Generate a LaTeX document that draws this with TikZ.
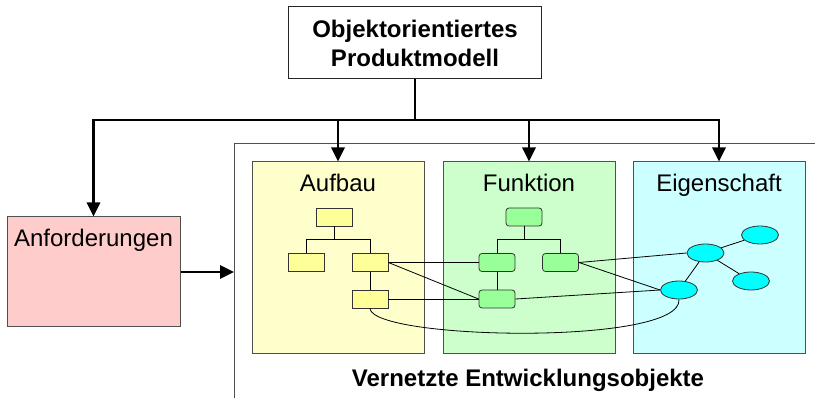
\documentclass[tikz,border=0pt]{standalone}
\usepackage{fontspec}
\setmainfont{Liberation Sans}
\usetikzlibrary{arrows.meta,shapes.geometric,calc}

\definecolor{aufbaubg}{HTML}{FFFFCC}
\definecolor{aufbauitem}{HTML}{FFFF99}
\definecolor{funkbg}{HTML}{CCFFCC}
\definecolor{funkitem}{HTML}{99FF99}
\definecolor{eigbg}{HTML}{CCFFFF}
\definecolor{eigitem}{HTML}{00FFFF}
\definecolor{anfbg}{HTML}{FFCCCC}
\definecolor{rim}{HTML}{505050}

\tikzset{
  panel/.style={draw=rim, line width=1pt, minimum width=172pt, minimum height=192pt,
    inner sep=0pt},
  panellabel/.style={font=\fontsize{24}{28}\selectfont, anchor=base},
  ablock/.style={draw=black!80, fill=aufbauitem, line width=0.8pt,
    minimum width=36pt, minimum height=18pt, inner sep=0pt},
  fblock/.style={ablock, fill=funkitem, rounded corners=3pt},
  eblob/.style={ellipse, draw=black!80, fill=eigitem, line width=0.8pt,
    minimum width=37pt, minimum height=18pt, inner sep=0pt},
  link/.style={black, line width=0.8pt},
  bus/.style={black, line width=2.6pt},
  feed/.style={bus, -{Triangle[length=14pt,width=13pt]}},
}

\begin{document}
\begin{tikzpicture}[x=1pt, y=-1pt]
\useasboundingbox (0,0) rectangle (815,398);

% product model on top
\node[draw=black!85, line width=1pt, minimum width=253pt, minimum height=72pt,
  align=center, font=\bfseries\fontsize{24}{29}\selectfont, inner sep=0pt]
  (model) at (415,43) {Objektorientiertes\\Produktmodell};

% enclosing frame of the networked objects (open towards the right and bottom)
\draw[rim, line width=1pt] (815,144) -- (234,144) coordinate (frameNW) -- (234,398);

% requirements
\node[panel, fill=anfbg, minimum width=173pt, minimum height=110pt]
  (anf) at (93.5,272) {};
\node[panellabel] (anflabel) at ($(anf.north)+(0,30)$) {Anforderungen};

% the three partial models
\node[panel, fill=aufbaubg] (auf) at (338,258) {};
\node[panel, fill=funkbg]   (fun) at (529,258) {};
\node[panel, fill=eigbg]    (eig) at (719,258) {};
\node[panellabel] (auflabel) at ($(auf.north)+(0,30)$) {Aufbau};
\node[panellabel] (funlabel) at ($(fun.north)+(0,30)$) {Funktion};
\node[panellabel] (eiglabel) at ($(eig.north)+(0,30)$) {Eigenschaft};

\node[font=\bfseries\fontsize{24}{28}\selectfont, anchor=base] (netlabel)
  at (528,387) {Vernetzte Entwicklungsobjekte};

% distribution bus from the product model
\draw[bus] (model.south) -- (model.south |- 0,120) coordinate (busC);
\draw[feed] (busC) -| (anf.north);
\draw[feed] (busC) -| (auf.north);
\draw[feed] (busC) -| (fun.north);
\draw[feed] (busC) -| (eig.north);

% requirements feed the networked objects
\coordinate (frameIn) at (anf.east -| frameNW);
\draw[feed] (anf.east) -- (frameIn);

% structure tree
\node[ablock] (a0) at (334,217) {};
\node[ablock] (a1) at (306.5,262.5) {};
\node[ablock] (a2) at (370,262.5) {};
\node[ablock] (a3) at (370,299) {};
\draw[link] (a0.south) -- ++(0,13) -| (a1.north);
\draw[link] (a0.south) -- ++(0,13) -| (a2.north);
\draw[link] (a2.south) -- (a3.north);

% function tree
\node[fblock] (f0) at (524,217) {};
\node[fblock] (f1) at (497,262.5) {};
\node[fblock] (f2) at (560.5,262.5) {};
\node[fblock] (f3) at (497,299) {};
\draw[link] (f0.south) -- ++(0,13) -| (f1.north);
\draw[link] (f0.south) -- ++(0,13) -| (f2.north);
\draw[link] (f1.south) -- (f3.north);

% property network
\node[eblob] (e1) at (705.5,253) {};
\node[eblob] (e2) at (760,235) {};
\node[eblob] (e3) at (751,281) {};
\node[eblob] (e4) at (679,290) {};
\draw[link] (e1) -- (e2);
\draw[link] (e1) -- (e3);
\draw[link] (e1) -- (e4);

% cross links between the partial models
\draw[link] (a2.east) -- (f1.west);
\draw[link] (a2.east) -- (f3.west);
\draw[link] (a3.east) -- (f3.west);
\draw[link] (f2.east) -- (e1.west);
\draw[link] (f2.east) -- (e4.west);
\draw[link] (f3.east) -- (e4.west);
\draw[link] (a3.south) .. controls (372,340) and (683,346) .. (e4.south);
\end{tikzpicture}
\end{document}
